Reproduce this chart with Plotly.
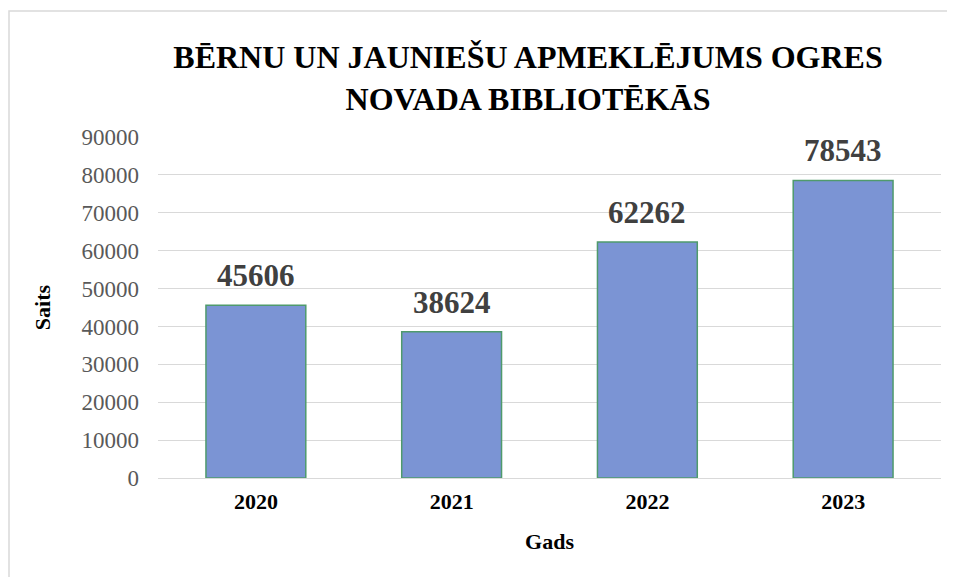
import plotly.graph_objects as go

years = ["2020", "2021", "2022", "2023"]
visits = [45606, 38624, 62262, 78543]
y_ticks = [0, 10000, 20000, 30000, 40000, 50000, 60000, 70000, 80000, 90000]

serif = "Liberation Serif, Times New Roman, serif"

W, H = 947, 569  # page body has an 8px margin
fig = go.Figure(go.Bar(
    x=years, y=visits,
    marker=dict(color="#7B94D4", line=dict(color="#4F9A6C", width=1.5)),
    width=0.51,
))

for i, v in enumerate(visits):
    fig.add_annotation(x=i, y=v, xref="x", yref="y", text="<b>%d</b>" % v,
                       showarrow=False, yanchor="bottom", yshift=10,
                       font=dict(family=serif, size=31, color="#404040"))

L, R, T, B = 150, 14, 129, 99
fig.update_layout(
    width=W, height=H,
    margin=dict(l=L, r=R, t=T, b=B),
    paper_bgcolor="white", plot_bgcolor="white",
    font=dict(family=serif),
    title=dict(text="<b>BĒRNU UN JAUNIEŠU APMEKLĒJUMS OGRES<br>NOVADA BIBLIOTĒKĀS</b>",
               x=520 / W, xanchor="center", y=1 - 60 / H, yanchor="top",
               font=dict(family=serif, size=32, color="black")),
    showlegend=False,
)
fig.update_yaxes(range=[0, 90000], tickvals=y_ticks, ticktext=[str(t) for t in y_ticks],
                 gridcolor="#D9D9D9", gridwidth=1, zeroline=False,
                 tickfont=dict(family=serif, size=23, color="#595959"),
                 ticks="", ticklen=0, ticklabelstandoff=18,
                 title=dict(text="<b>Saits</b>", font=dict(family=serif, size=22, color="black"), standoff=24))
fig.update_xaxes(type="category", range=[-0.5, 3.5],
                 showline=True, linecolor="#D9D9D9", linewidth=1,
                 tickfont=dict(family=serif, size=22, color="black"),
                 ticktext=["<b>%s</b>" % y for y in years], tickvals=years,
                 tickangle=0, ticklabelstandoff=4,
                 title=dict(text="<b>Gads</b>", font=dict(family=serif, size=22, color="black"), standoff=20))

pw = W - L - R
ph = H - T - B
fig.add_shape(type="rect", xref="paper", yref="paper",
              x0=(1 - L) / pw, x1=(1000 - L) / pw,
              y0=(H - B - 620) / ph, y1=(H - B - 3) / ph,
              line=dict(color="#D9D9D9", width=1.5), fillcolor="rgba(0,0,0,0)", layer="below")

fig.write_html("out.html")
